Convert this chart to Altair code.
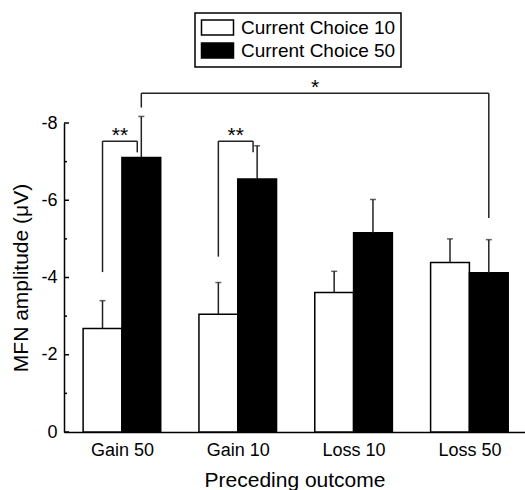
import json
import altair as alt
import pandas as pd

# ---------------- data ----------------
categories = ["Gain 50", "Gain 10", "Loss 10", "Loss 50"]
series = ["Current Choice 10", "Current Choice 50"]
mean_10 = [-2.68, -3.05, -3.61, -4.39]
mean_50 = [-7.11, -6.55, -5.16, -4.12]
se_10 = [0.72, 0.82, 0.55, 0.61]
se_50 = [1.06, 0.86, 0.86, 0.86]

# significance brackets (category / bar of each end, heights in µV)
br_left_cat = ["Gain 50", "Gain 10", "Gain 50"]
br_left_bar = ["Current Choice 10", "Current Choice 10", "Current Choice 50"]
br_right_cat = ["Gain 50", "Gain 10", "Loss 50"]
br_right_bar = ["Current Choice 50", "Current Choice 50", "Current Choice 50"]
br_top = [-7.53, -7.53, -8.77]
br_left_end = [-4.14, -4.54, -8.40]
br_right_end = [-7.24, -7.24, -5.54]
br_label = ["**", "**", "*"]

y_major = [0, -2, -4, -6, -8]
y_minor = [-1, -3, -5, -7]

# ---------------- layout helpers ----------------
BAR = 0.335          # bar width in group units
INSET = 0.035        # short brackets' right leg sits just left of the error bar
XT = "Preceding outcome"
YT = "MFN amplitude (μV)"


def bar_center(cat, s):
    i = categories.index(cat)
    return i - BAR / 2 if s == series[0] else i + BAR / 2


rows = []
for i, c in enumerate(categories):
    for s, m, e in ((series[0], mean_10[i], se_10[i]), (series[1], mean_50[i], se_50[i])):
        x0 = i - BAR if s == series[0] else i
        rows.append(dict(cat=c, series=s, mean=m, top=m - e, zero=0,
                         x0=x0, x1=x0 + BAR, center=x0 + BAR / 2))
df = pd.DataFrame(rows)

legs, horiz, labels = [], [], []
for k in range(len(br_label)):
    xl = bar_center(br_left_cat[k], br_left_bar[k])
    xr = bar_center(br_right_cat[k], br_right_bar[k])
    if br_label[k] == "**":
        xr -= INSET
    legs.append(dict(x=xl, y=br_left_end[k], y2=br_top[k]))
    legs.append(dict(x=xr, y=br_right_end[k], y2=br_top[k]))
    horiz.append(dict(x=xl, x2=xr, y=br_top[k]))
    labels.append(dict(x=(xl + xr) / 2, y=br_top[k], t=br_label[k]))
legs_df = pd.DataFrame(legs)
horiz_df = pd.DataFrame(horiz)
labels_df = pd.DataFrame(labels)
major_df = pd.DataFrame({"v": y_major})
minor_df = pd.DataFrame({"v": y_minor})

LINE = "#222222"
xscale = alt.Scale(domain=[-0.5, 3.48], nice=False, zero=False)
yscale = alt.Scale(domain=[0, -8], nice=False, zero=False)
label_expr = json.dumps(categories) + "[datum.value]"

bars = alt.Chart(df).mark_bar(stroke="black", strokeWidth=1.5).encode(
    x=alt.X("x0:Q", scale=xscale,
            axis=alt.Axis(values=[0, 1, 2, 3], labelExpr=label_expr, ticks=False,
                          grid=False, labelPadding=9, labelFontSize=18,
                          titleFontSize=21, titlePadding=10, domainColor="black",
                          domainWidth=1.5, labelColor="black", titleColor="black",
                          titleFontWeight="normal"),
            title=XT),
    x2="x1:Q",
    y=alt.Y("mean:Q", scale=yscale,
            axis=alt.Axis(values=y_major, labelExpr="'' + datum.value", tickSize=0,
                          ticks=False, grid=False, labelPadding=7, labelFontSize=18,
                          titleFontSize=21, titlePadding=9, domainColor="black",
                          domainWidth=1.5, labelColor="black", titleColor="black",
                          titleFontWeight="normal"),
            title=YT),
    y2="zero:Q",
    color=alt.Color("series:N", scale=alt.Scale(domain=series, range=["white", "black"]),
                    title=None,
                    legend=alt.Legend(orient="none", legendX=131, legendY=-110,
                                      direction="vertical", strokeColor="black",
                                      fillColor="white", padding=5,
                                      symbolType="M-1,-0.94H3V0.94H-1Z", symbolSize=256,
                                      symbolStrokeColor="black", symbolStrokeWidth=1.5,
                                      labelFontSize=19, labelOffset=22, rowPadding=0,
                                      labelColor="black")),
)

err = alt.Chart(df).mark_rule(color=LINE, strokeWidth=1.5).encode(
    x=alt.X("center:Q", title=XT), y=alt.Y("mean:Q", title=YT), y2="top:Q")
caps = alt.Chart(df).mark_tick(orient="horizontal", size=6, thickness=1.5, color=LINE).encode(
    x=alt.X("center:Q", title=XT), y=alt.Y("top:Q", title=YT))

leg_rules = alt.Chart(legs_df).mark_rule(color=LINE, strokeWidth=1.5).encode(
    x=alt.X("x:Q", title=XT), y=alt.Y("y:Q", title=YT), y2="y2:Q")
horiz_rules = alt.Chart(horiz_df).mark_rule(color=LINE, strokeWidth=1.5).encode(
    x=alt.X("x:Q", title=XT), x2="x2:Q", y=alt.Y("y:Q", title=YT))
stars = alt.Chart(labels_df).mark_text(fontSize=21, baseline="alphabetic", dy=1,
                                       color="black").encode(
    x=alt.X("x:Q", title=XT), y=alt.Y("y:Q", title=YT), text="t:N")

major_ticks = alt.Chart(major_df).mark_rule(color="black", strokeWidth=1.5).encode(
    y=alt.Y("v:Q", title=YT), x=alt.value(0), x2=alt.value(5))
minor_ticks = alt.Chart(minor_df).mark_rule(color="black", strokeWidth=1.5).encode(
    y=alt.Y("v:Q", title=YT), x=alt.value(0), x2=alt.value(3))

chart = alt.layer(bars, err, caps, leg_rules, horiz_rules, stars, major_ticks, minor_ticks).properties(
    width=461, height=309,
    autosize=alt.AutoSizeParams(type="none"),
    padding={"left": 64, "top": 123, "right": 0, "bottom": 58},
).configure(font="Liberation Sans").configure_view(stroke=None).configure_legend(strokeWidth=1.5)

chart.save("out.html", embed_options={"renderer": "svg", "actions": False})
